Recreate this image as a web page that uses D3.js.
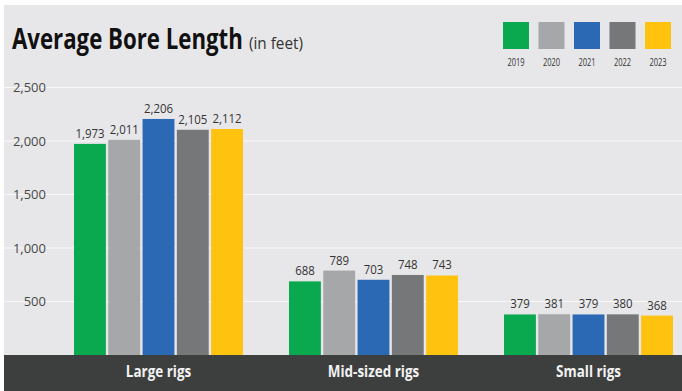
<!DOCTYPE html>
<html><head><meta charset="utf-8">
<script src="https://cdn.jsdelivr.net/npm/d3@7"></script>
<style>
html,body{margin:0;padding:0;background:#fff;}
svg{display:block;}
text{font-family:"Open Sans","Noto Sans",sans-serif;}
</style></head>
<body>
<svg id="c" width="682" height="391"></svg>
<script>
const categories = ["Large rigs", "Mid-sized rigs", "Small rigs"];
const years = ["2019", "2020", "2021", "2022", "2023"];
const values2019 = [1973, 688, 379];
const values2020 = [2011, 789, 381];
const values2021 = [2206, 703, 379];
const values2022 = [2105, 748, 380];
const values2023 = [2112, 743, 368];
const yTicks = [500, 1000, 1500, 2000, 2500];
const colors = ["#0aa84f", "#a6a7a9", "#2b69b5", "#767779", "#ffc20e"];
const series = [values2019, values2020, values2021, values2022, values2023];

const W = 682, H = 391;
const svg = d3.select("#c");
svg.append("rect").attr("x", 4).attr("y", 5).attr("width", W - 4).attr("height", H - 5).attr("fill", "#e7e7e9");

const y = d3.scaleLinear().domain([0, 2500]).range([355, 87.5]);
const xg = d3.scalePoint().domain(categories).range([158.5, 588.5]);
const xy = d3.scaleBand().domain(years).range([-84.5, 84.5]).paddingInner(0.07);
const color = d3.scaleOrdinal().domain(years).range(colors);

function squeeze(sel, k, fx, fy) {
  return sel.attr("transform", d => `translate(${fx(d)},${fy(d)}) scale(${k},1)`);
}
// fit a text to a target width by horizontal scaling
function fitText(x, yb, width, size, weight, fill, str) {
  const t = svg.append("text").attr("font-size", size).attr("font-weight", weight)
    .attr("fill", fill).text(str);
  const w = t.node().getComputedTextLength();
  t.attr("transform", `translate(${x},${yb}) scale(${width / w},1)`);
  return t;
}

// grid
svg.append("g").selectAll("line").data(yTicks).join("line")
  .attr("x1", 4).attr("x2", W).attr("y1", d => y(d)).attr("y2", d => y(d))
  .attr("stroke", "#f8f8f9").attr("stroke-width", 1);

// y axis
const yAxis = d3.axisLeft(y).tickValues(yTicks).tickSize(0).tickPadding(0).tickFormat(d3.format(","));
const ga = svg.append("g").attr("transform", "translate(46,0)").call(yAxis);
ga.select(".domain").remove();
ga.selectAll("text").attr("font-size", 13).attr("fill", "#474747")
  .attr("font-family", "'Open Sans','Noto Sans',sans-serif");

// bars
const data = [];
categories.forEach((c, i) => years.forEach((yr, j) => data.push({c, yr, v: series[j][i]})));
const g = svg.append("g");
g.selectAll("rect").data(data).join("rect")
  .attr("x", d => xg(d.c) + xy(d.yr))
  .attr("width", xy.bandwidth())
  .attr("y", d => y(d.v))
  .attr("height", d => y(0) - y(d.v))
  .attr("fill", d => color(d.yr));
squeeze(g.selectAll("text").data(data).join("text"), 0.88,
    d => xg(d.c) + xy(d.yr) + xy.bandwidth() / 2, d => y(d.v) - 6)
  .attr("text-anchor", "middle").attr("font-size", 13).attr("fill", "#333")
  .text(d => d3.format(",")(d.v));

// bottom band
svg.append("rect").attr("x", 4).attr("y", 355).attr("width", W - 4).attr("height", H - 355).attr("fill", "#3c3f3e");
squeeze(svg.append("g").selectAll("text").data(categories).join("text"), 0.84, d => xg(d), () => 377)
  .attr("text-anchor", "middle")
  .attr("font-size", 16).attr("font-weight", "bold").attr("fill", "#f2f2f2")
  .text(d => d);

// title
fitText(12, 49, 231, 28, "bold", "#111", "Average Bore Length");
fitText(249, 49, 54, 16, "normal", "#333", "(in feet)");

// legend
const lg = svg.append("g").selectAll("g").data(years).join("g")
  .attr("transform", (d, i) => `translate(${503 + i * 35.5},22)`);
lg.append("rect").attr("width", 26).attr("height", 27).attr("fill", d => color(d));
lg.append("text").attr("transform", "translate(13,44) scale(0.75,1)").attr("text-anchor", "middle")
  .attr("font-size", 10).attr("fill", "#333").text(d => d);
</script>
</body></html>
